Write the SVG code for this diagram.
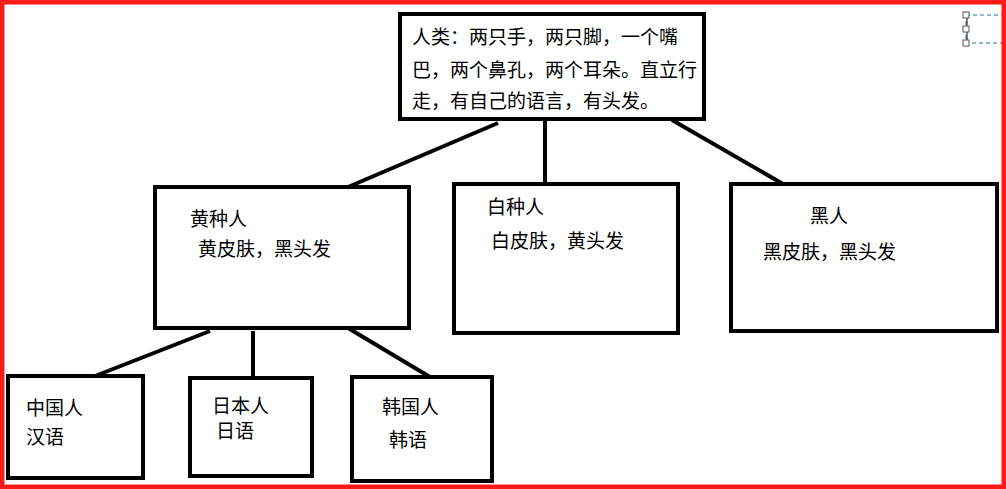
<svg xmlns="http://www.w3.org/2000/svg" width="1006" height="489" viewBox="0 0 1006 489">
<style>
.b{fill:#fff;stroke:#000;stroke-width:4}
.l{stroke:#000;stroke-width:4;fill:none}
text{font-family:"Noto Sans CJK SC",sans-serif;font-size:19px;fill:#000}
</style>
<rect x="0" y="0" width="1006" height="489" fill="#fff"/>
<g id="connectors">
<line class="l" x1="498" y1="123" x2="348" y2="187"/>
<line class="l" x1="545" y1="117" x2="545" y2="184"/>
<line class="l" x1="672" y1="120" x2="783" y2="184"/>
<line class="l" x1="210" y1="331" x2="90" y2="378"/>
<line class="l" x1="253" y1="331" x2="253" y2="378"/>
<line class="l" x1="343" y1="325" x2="430" y2="377"/>
</g>
<g id="human"><rect class="b" x="400" y="14" width="304" height="105"/>
<text x="412" y="44">人类：两只手，两只脚，一个嘴</text>
<text x="412" y="77">巴，两个鼻孔，两个耳朵。直立行</text>
<text x="412" y="108">走，有自己的语言，有头发。</text></g>
<g id="yellow"><rect class="b" x="155" y="187" width="254" height="141"/>
<text x="190" y="226">黄种人</text><text x="198" y="256">黄皮肤，黑头发</text></g>
<g id="white"><rect class="b" x="454" y="184" width="224" height="149"/>
<text x="487" y="214">白种人</text><text x="491" y="248">白皮肤，黄头发</text></g>
<g id="black"><rect class="b" x="731" y="184" width="266" height="147"/>
<text x="810" y="223">黑人</text><text x="763" y="259">黑皮肤，黑头发</text></g>
<g id="china"><rect class="b" x="8" y="376" width="135" height="102"/>
<text x="26" y="415">中国人</text><text x="26" y="444">汉语</text></g>
<g id="japan"><rect class="b" x="190" y="378" width="122" height="98"/>
<text x="212" y="413">日本人</text><text x="216" y="438">日语</text></g>
<g id="korea"><rect class="b" x="352" y="377" width="140" height="104"/>
<text x="382" y="414">韩国人</text><text x="389" y="447">韩语</text></g>
<g id="sel" stroke-width="1">
<rect x="966" y="15" width="40" height="28" fill="none" stroke="#1f6fb0" stroke-dasharray="4,3"/>
<line x1="967" y1="15" x2="967" y2="43" stroke="#000"/>
<rect x="963" y="12" width="6" height="6" fill="#fff" stroke="#555"/>
<rect x="963" y="26" width="6" height="6" fill="#fff" stroke="#555"/>
<rect x="963" y="40" width="6" height="6" fill="#fff" stroke="#555"/>
</g>
<rect x="2" y="2" width="1002" height="485" fill="none" stroke="#ff1a1a" stroke-width="5"/>
</svg>
